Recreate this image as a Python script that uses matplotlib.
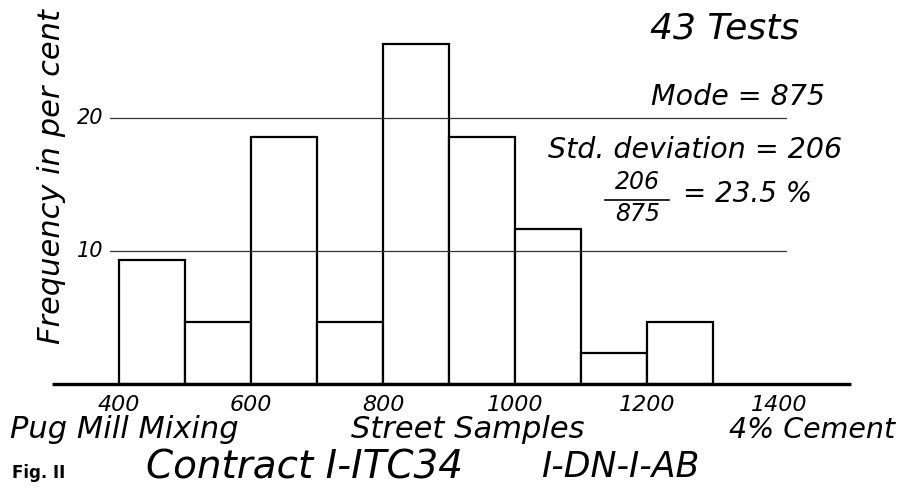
import numpy as np
import matplotlib
matplotlib.use('Agg')
import matplotlib.pyplot as plt

# histogram data: 43 tests, class width 100
bin_left = [400, 500, 600, 700, 800, 900, 1000, 1100, 1200]
counts = [4, 2, 8, 2, 11, 8, 5, 1, 2]
n_tests = 43
percent = [c / n_tests * 100 for c in counts]

x_ticks = [400, 600, 800, 1000, 1200, 1400]
y_grid = [10, 20]

HAND = dict(family='DejaVu Sans', style='italic', color='black')

fig = plt.figure(figsize=(9.12, 4.91), dpi=100)
ax = fig.add_axes([0, 0, 1, 1])
ax.set_xlim(219.7, 1601.5)
ax.set_ylim(-8.05, 28.87)
ax.axis('off')

# bars
ax.bar(bin_left, percent, width=100, align='edge', facecolor='white',
       edgecolor='black', linewidth=1.6, zorder=2)

# horizontal reference lines, drawn across the bars
for g in y_grid:
    ax.plot([386, 1410], [g, g], color='#333333', lw=0.9, zorder=4)
    ax.text(376, g, str(g), ha='right', va='center', fontsize=15, **HAND)

# base line
ax.plot([298, 1509], [0, 0], color='black', lw=2.4, zorder=5, solid_capstyle='butt')

for t in x_ticks:
    ax.text(t, -1.55, str(t), ha='center', va='center', fontsize=16, **HAND)

ax.text(298, 15.6, 'Frequency in per cent', rotation=90, ha='center', va='center',
        fontsize=22, **HAND)

# annotations
ax.text(1318, 26.7, '43 Tests', ha='center', va='center', fontsize=26, **HAND)
ax.text(1338, 21.6, 'Mode = 875', ha='center', va='center', fontsize=20.5, **HAND)
ax.text(1273, 17.6, 'Std. deviation = 206', ha='center', va='center', fontsize=20.5, **HAND)
ax.text(1186, 15.2, '206', ha='center', va='center', fontsize=17, **HAND)
ax.plot([1136, 1234], [13.85, 13.85], color='black', lw=1.2)
ax.text(1186, 12.75, '875', ha='center', va='center', fontsize=17, **HAND)
ax.text(1255, 14.3, '= 23.5 %', ha='left', va='center', fontsize=20, **HAND)

ax.text(235, -3.45, 'Pug Mill Mixing', ha='left', va='center', fontsize=22, **HAND)
ax.text(751, -3.45, 'Street Samples', ha='left', va='center', fontsize=22, **HAND)
ax.text(1576, -3.45, '4% Cement', ha='right', va='center', fontsize=20.5, **HAND)

ax.text(238, -6.7, 'Fig. II', ha='left', va='center', fontsize=12,
        family='DejaVu Sans', weight='bold')
ax.text(441, -6.25, 'Contract I-ITC34', ha='left', va='center', fontsize=28, **HAND)
ax.text(1039, -6.25, 'I-DN-I-AB', ha='left', va='center', fontsize=25, **HAND)

fig.savefig('out.png', dpi=100)
